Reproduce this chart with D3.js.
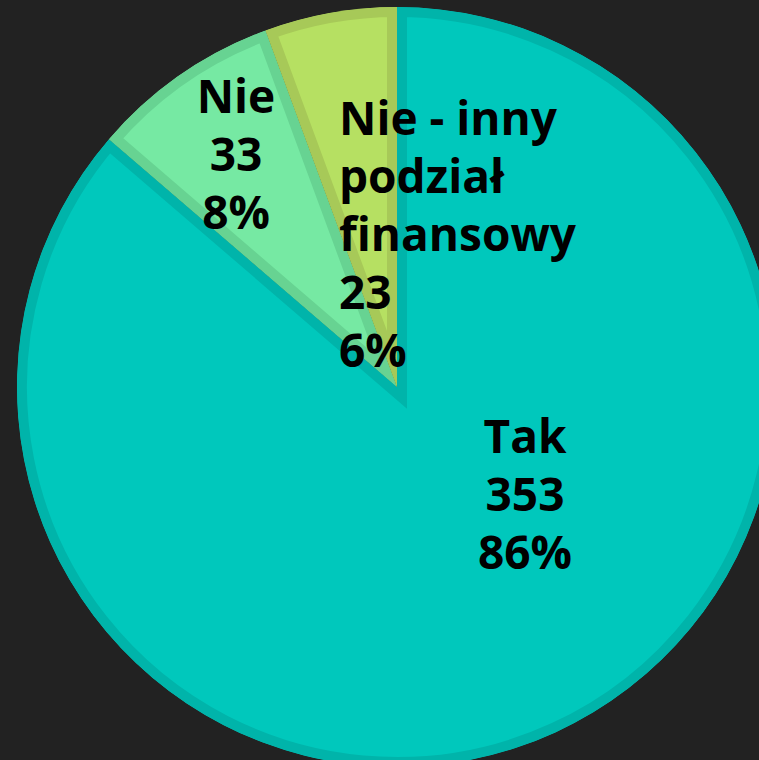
<!DOCTYPE html>
<html>
<head>
<meta charset="utf-8">
<script src="https://cdn.jsdelivr.net/npm/d3@7"></script>
<style>
  html, body { margin: 0; padding: 0; background: #222222; }
  svg { display: block; }
</style>
</head>
<body>
<script>
// ---- data ----
const categories = ["Tak", "Nie", "Nie - inny podział finansowy"];
const values = [353, 33, 23];
const percents = ["86%", "8%", "6%"];
const labelLines = [
  ["Tak"],
  ["Nie"],
  ["Nie - inny", "podział", "finansowy"]
];
const fillColors = ["#00c8bc", "#76e9a3", "#b6e062"];
const borderColors = ["#00b4aa", "#67d392", "#a7c958"];

// ---- layout ----
const W = 759, H = 760;
const cx = 397, cy = 387, R = 380;
const fontSize = 46, lineH = 58;
// label anchors: [x, first baseline, anchor]
const labelPos = [
  [525, 453, "middle"],
  [236, 113, "middle"],
  [339, 135, "start"]
];

const svg = d3.select("body").append("svg")
  .attr("width", W).attr("height", H);
svg.append("rect").attr("width", W).attr("height", H).attr("fill", "#222222");

const pie = d3.pie().sort(null).value(d => d)
  .startAngle(0).endAngle(2 * Math.PI);
const arcs = pie(values);
const arc = d3.arc().innerRadius(0).outerRadius(R);

const defs = svg.append("defs");
const g = svg.append("g").attr("transform", `translate(${cx},${cy})`);

arcs.forEach((a, i) => {
  const d = arc(a);
  defs.append("clipPath").attr("id", "clip" + i)
    .append("path").attr("d", d);
  g.append("path")
    .attr("d", d)
    .attr("fill", fillColors[i])
    .attr("stroke", borderColors[i])
    .attr("stroke-width", 20)
    .attr("stroke-linejoin", "miter")
    .attr("clip-path", `url(#clip${i})`);
});

// ---- labels ----
arcs.forEach((a, i) => {
  const lines = labelLines[i].concat([String(values[i]), percents[i]]);
  const [x, y0, anchor] = labelPos[i];
  const t = svg.append("text")
    .attr("font-family", "'Open Sans', sans-serif")
    .attr("font-weight", 700)
    .attr("font-size", fontSize)
    .attr("fill", "#000")
    .attr("text-anchor", anchor);
  lines.forEach((ln, j) => {
    t.append("tspan").attr("x", x).attr("y", y0 + j * lineH).text(ln);
  });
});
</script>
</body>
</html>
